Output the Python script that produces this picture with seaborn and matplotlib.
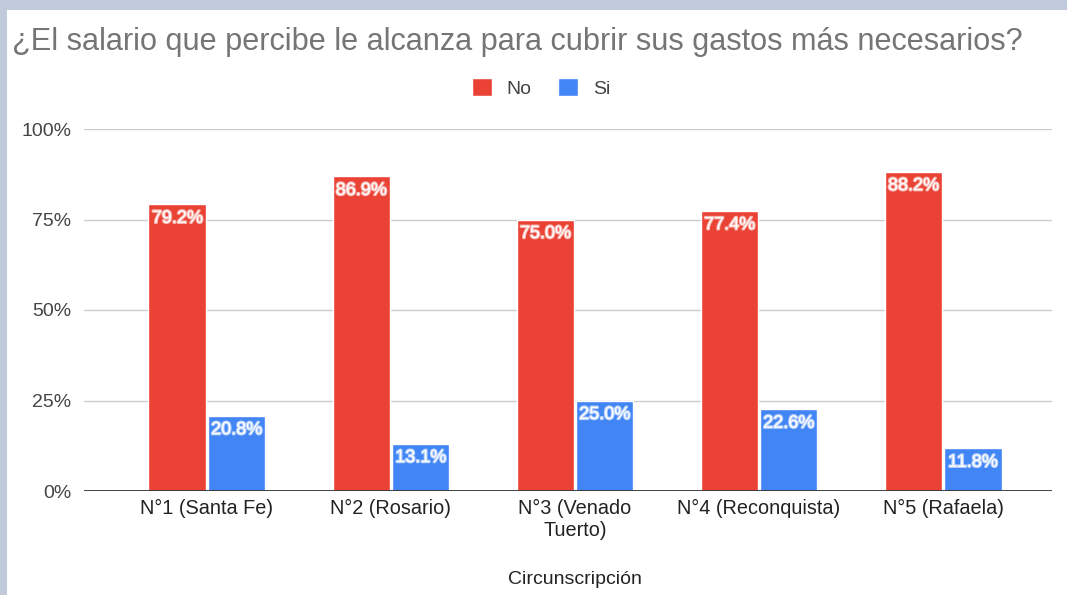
import matplotlib
matplotlib.use("Agg")
import matplotlib.pyplot as plt
import matplotlib.patheffects as pe
from matplotlib.patches import Rectangle
import pandas as pd
import seaborn as sns

categories = ["N°1 (Santa Fe)", "N°2 (Rosario)", "N°3 (Venado\nTuerto)",
              "N°4 (Reconquista)", "N°5 (Rafaela)"]
no_values = [0.792, 0.869, 0.750, 0.774, 0.882]
si_values = [0.208, 0.131, 0.250, 0.226, 0.118]
series = ["No", "Si"]
colors = ["#ea4335", "#4285f4"]
halos = ["#f6b3ad", "#b4cffb"]

df = pd.DataFrame({
    "circ": categories * 2,
    "resp": ["No"] * len(categories) + ["Si"] * len(categories),
    "pct": no_values + si_values,
})

sns.set_theme(style="white")
plt.rcParams["font.family"] = ["Liberation Sans", "DejaVu Sans"]

W, H = 1067, 595
fig = plt.figure(figsize=(W / 100, H / 100), dpi=100)
fig.patch.set_facecolor("#c0cadb")
fig.add_artist(Rectangle((7 / W, 0), 1, 1 - 10 / H, transform=fig.transFigure,
                         facecolor="white", edgecolor="none", zorder=-1))

ax = fig.add_axes([84 / W, 1 - 491 / H, (1052 - 84) / W, (491 - 129) / H])
ax.set_facecolor("none")

sns.barplot(data=df, x="circ", y="pct", hue="resp", palette=colors,
            width=0.645, gap=0.03, ax=ax, saturation=1, zorder=3)

ax.set_ylim(0, 1)
ax.set_xlim(-0.668, 4.592)
ax.set_yticks([0, 0.25, 0.5, 0.75, 1.0])
ax.set_yticklabels(["0%", "25%", "50%", "75%", "100%"])
for y in [0.25, 0.5, 0.75, 1.0]:
    ax.axhline(y, color="#cccccc", lw=1, zorder=1)
ax.axhline(0, color="#333333", lw=1.3, zorder=4)
for s in ax.spines.values():
    s.set_visible(False)
ax.tick_params(axis="y", length=0, pad=9, labelsize=14, labelcolor="#444444")
ax.tick_params(axis="x", length=0, pad=6, labelsize=14.3, labelcolor="#222222")
ax.set_ylabel("")
ax.set_xlabel("")

# data labels inside bar tops
for cont, col, halo in zip(ax.containers, colors, halos):
    for bar in cont:
        v = bar.get_height()
        ax.annotate(f"{v * 100:.1f}%", (bar.get_x() + bar.get_width() / 2, v),
                    xytext=(0, -4), textcoords="offset points",
                    ha="center", va="top", fontsize=13, color="white", zorder=5,
                    path_effects=[pe.withStroke(linewidth=1.6, foreground=halo)])

handles, labels = ax.get_legend_handles_labels()
ax.legend(handles, labels, loc="center", bbox_to_anchor=(541 / W, 1 - 88 / H),
          bbox_transform=fig.transFigure, ncol=2, frameon=False, fontsize=14,
          handlelength=1.05, handleheight=1.05, columnspacing=1.35, handletextpad=0.75,
          labelcolor="#444444")

fig.text(12 / W, 1 - 42 / H,
         "¿El salario que percibe le alcanza para cubrir sus gastos más necesarios?",
         ha="left", va="center", fontsize=22.1, color="#757575")
fig.text(575 / W, 1 - 580 / H, "Circunscripción", ha="center", va="center",
         fontsize=14, color="#222222")

fig.savefig("out.png", dpi=100)
